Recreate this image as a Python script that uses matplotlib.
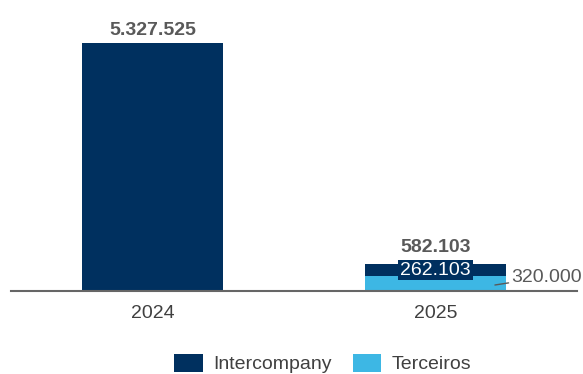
import matplotlib.pyplot as plt
import numpy as np

plt.rcParams['font.family'] = ['Liberation Sans', 'DejaVu Sans']

# dados
anos = ['2024', '2025']
intercompany = [5327525, 262103]
terceiros = [0, 320000]
series = ['Intercompany', 'Terceiros']

cor_inter = '#00305F'
cor_terc = '#3DB7E4'


def fmt(v):
    return f'{v:,.0f}'.replace(',', '.')


fig = plt.figure(figsize=(5.83, 3.74), dpi=100)
ax = fig.add_axes([11 / 583, 1 - 291 / 374, 566 / 583, 276 / 374])

x = np.arange(len(anos))
largura = 0.5
b1 = ax.bar(x, terceiros, largura, color=cor_terc, label=series[1])
b2 = ax.bar(x, intercompany, largura, bottom=terceiros, color=cor_inter, label=series[0])

ax.set_xlim(-0.5, 1.5)
ymax = intercompany[0] * 276 / 248
ax.set_ylim(0, ymax)
px = intercompany[0] / 248  # valor por pixel

for s in ['top', 'right', 'left']:
    ax.spines[s].set_visible(False)
ax.spines['bottom'].set_color('#666666')
ax.spines['bottom'].set_linewidth(1.5)
ax.set_yticks([])
ax.set_xticks(x)
ax.set_xticklabels(anos, fontsize=14, color='#404040')
ax.tick_params(axis='x', length=0, pad=10)

# totais (o de 2025 fica acima da caixa do rótulo)
desloc = [3, 5.5]
for i in range(len(anos)):
    total = intercompany[i] + terceiros[i]
    ax.annotate(fmt(total), (x[i], total), xytext=(0, desloc[i]), textcoords='offset points',
                ha='center', va='bottom', fontsize=14, fontweight='bold', color='#595959')

# rótulo intercompany 2025
ax.text(x[1], terceiros[1] + intercompany[1] / 2, fmt(intercompany[1]), ha='center', va='center',
        fontsize=14, color='white',
        bbox=dict(boxstyle='square,pad=0.1', facecolor=cor_inter, edgecolor='none'))

# rótulo terceiros 2025 com linha guia
ax.annotate(fmt(terceiros[1]), xy=(1.21, 6 * px),
            xytext=(1.268, 14 * px), ha='left', va='center',
            fontsize=14, color='#595959', annotation_clip=False,
            arrowprops=dict(arrowstyle='-', color='#595959', lw=1, shrinkA=0, shrinkB=0))

# legenda
handles = [b2, b1]
fig.legend(handles, series, loc='center', bbox_to_anchor=(323 / 583, 1 - 363.5 / 374),
           ncol=2, frameon=False, fontsize=14, handlelength=1.45, handleheight=1.1,
           columnspacing=1.1, handletextpad=0.55, labelcolor='#404040')

fig.savefig('out.png', dpi=100)
